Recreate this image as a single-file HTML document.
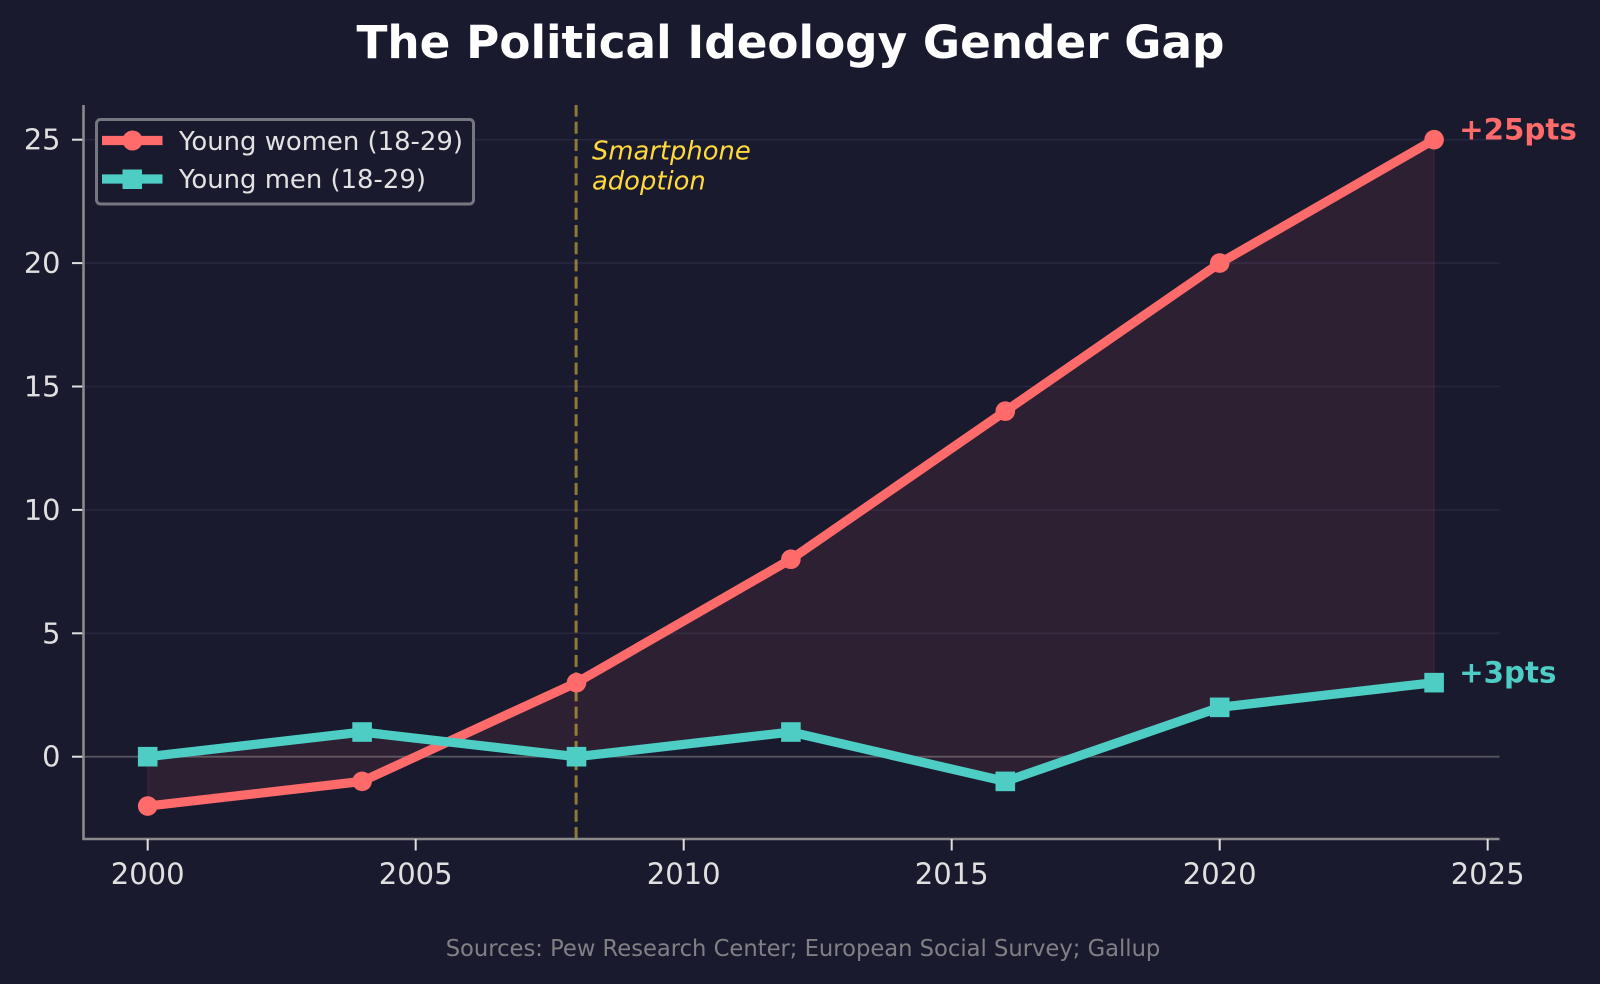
<!DOCTYPE html>
<html>
<head>
<meta charset="utf-8">
<title>The Political Ideology Gender Gap</title>
<style>
html,body{margin:0;padding:0;background:#1a1a2e;width:1600px;height:984px;overflow:hidden}
svg{display:block;font-family:"DejaVu Sans","Liberation Sans",sans-serif}
</style>
</head>
<body>
<svg id="chart" xmlns="http://www.w3.org/2000/svg" width="1600" height="984" viewBox="0 0 1600 984">
  <rect width="1600" height="984" fill="#1a1a2e"/>
  <text x="790.500" y="58" text-anchor="middle" font-size="45.300" font-weight="700" fill="#ffffff">The Political Ideology Gender Gap</text>
  <g id="plot"></g>
  <g>
    <rect x="96.500" y="119.500" width="377" height="84.500" rx="4" fill="#1a1a2e" stroke="#767680" stroke-width="3"/>
    <g>
      <line x1="102" x2="162.500" y1="140.500" y2="140.500" stroke="#ff6b6b" stroke-width="9.200"/>
      <circle cx="132.500" cy="140.500" r="10" fill="#ff6b6b"/>
      <text x="179" y="150" font-size="25.900" fill="#e2e2e2">Young women (18-29)</text>
    </g>
    <g>
      <line x1="102" x2="162.500" y1="179" y2="179" stroke="#4ecdc4" stroke-width="9.200"/>
      <rect x="122.500" y="169.500" width="19.500" height="19.500" fill="#4ecdc4"/>
      <text x="179" y="188" font-size="25.900" fill="#e2e2e2">Young men (18-29)</text>
    </g>
  </g>
  <text x="803" y="956" text-anchor="middle" font-size="22.650" fill="#808084">Sources: Pew Research Center; European Social Survey; Gallup</text>
</svg>
<script>
const years = [2000, 2004, 2008, 2012, 2016, 2020, 2024];
const womenValues = [-2, -1, 3, 8, 14, 20, 25];
const menValues = [0, 1, 0, 1, -1, 2, 3];
const xTickLabels = [2000, 2005, 2010, 2015, 2020, 2025];
const yTickLabels = [0, 5, 10, 15, 20, 25];
const eventYear = 2008;
const annotationLines = ['Smartphone', 'adoption'];

const NS = 'http://www.w3.org/2000/svg';
const plot = document.getElementById('plot');
function xScale(v){ return 147.7 + (v - 2000) * 53.6; }
function yScale(v){ return 756.7 - v * 24.68; }
const left = 83.5, right = 1499.5, top_ = 105, bottom = 839;

function make(tag, attrs, text){
  const el = document.createElementNS(NS, tag);
  for (const k in attrs) el.setAttribute(k, attrs[k]);
  if (text !== undefined) el.textContent = text;
  plot.appendChild(el);
  return el;
}

// grid lines and y-axis ticks
yTickLabels.forEach(function(t){
  const y = yScale(t);
  const grid = make('line', {x1:left, x2:right, y1:y, y2:y, stroke: t === 0 ? '#55555f' : '#26263f', 'stroke-width': t === 0 ? 1.8 : 1.6});
  
  
  const tick = make('line', {x1:left - 11.500, x2:left, y1:y, y2:y, stroke:'#e0e0e0', 'stroke-width':2});
  
  
  const label = make('text', {x:left - 23, y:y + 10, 'text-anchor':'end', 'font-size':28.800, fill:'#e0e0e0'}, String(t));
  
  
});

// area between the two series
const upper = years.map(function(yr, i){ return xScale(yr) + ',' + yScale(womenValues[i]); });
const lower = years.map(function(yr, i){ return xScale(yr) + ',' + yScale(menValues[i]); }).reverse();
const gapArea = make('polygon', {points: upper.concat(lower).join(' '), fill:'#ff6b6b', 'fill-opacity':0.085, stroke:'#ff6b6b', 'stroke-opacity':0.085, 'stroke-width':1.5});



// event marker
const eventLine = make('line', {x1:xScale(eventYear) - 0.4, x2:xScale(eventYear) - 0.4, y1:bottom, y2:top_, stroke:'#ffd93d', 'stroke-opacity':0.5, 'stroke-width':3, 'stroke-dasharray':'12 5.200'});



annotationLines.forEach(function(line, i){
  const note = make('text', {x:xScale(eventYear) + 15.500, y:159.500 + i * 30, 'font-size':25.800, 'font-style':'italic', fill:'#ffd93d'}, line);
  
  
});

// women series
const womenLine = make('polyline', {points: upper.join(' '), fill:'none', stroke:'#ff6b6b', 'stroke-width':9.200, 'stroke-linejoin':'round', 'stroke-linecap':'butt'});


years.forEach(function(yr, i){
  const pt = make('circle', {cx:xScale(yr), cy:yScale(womenValues[i]), r:9.800, fill:'#ff6b6b'});
  
  
});

// men series
const menLine = make('polyline', {points: years.map(function(yr, i){ return xScale(yr) + ',' + yScale(menValues[i]); }).join(' '), fill:'none', stroke:'#4ecdc4', 'stroke-width':9.200, 'stroke-linejoin':'round', 'stroke-linecap':'butt'});


years.forEach(function(yr, i){
  const pt = make('rect', {x:xScale(yr) - 9.800, y:yScale(menValues[i]) - 9.800, width:19.600, height:19.600, fill:'#4ecdc4'});
  
  
});

// end labels
const lastIdx = years.length - 1;
const womenEnd = make('text', {x:xScale(years[lastIdx]) + 25, y:yScale(womenValues[lastIdx]) + 0, 'font-size':29.300, 'font-weight':700, fill:'#ff6b6b'}, '+' + womenValues[lastIdx] + 'pts');


const menEnd = make('text', {x:xScale(years[lastIdx]) + 25, y:yScale(menValues[lastIdx]) + 0, 'font-size':29.300, 'font-weight':700, fill:'#4ecdc4'}, '+' + menValues[lastIdx] + 'pts');



// spines
const ySpine = make('line', {x1:left, x2:left, y1:top_, y2:bottom + 1, stroke:'#8a8a8a', 'stroke-width':2.600});


const xSpine = make('line', {x1:left - 1, x2:right, y1:bottom, y2:bottom, stroke:'#8a8a8a', 'stroke-width':2.600});



// x-axis ticks
xTickLabels.forEach(function(t){
  const x = xScale(t);
  const tick = make('line', {x1:x, x2:x, y1:bottom, y2:bottom + 11.500, stroke:'#e0e0e0', 'stroke-width':2});
  
  
  const label = make('text', {x:x, y:884, 'text-anchor':'middle', 'font-size':29, fill:'#e0e0e0'}, String(t));
  
  
});
</script>
</body>
</html>
